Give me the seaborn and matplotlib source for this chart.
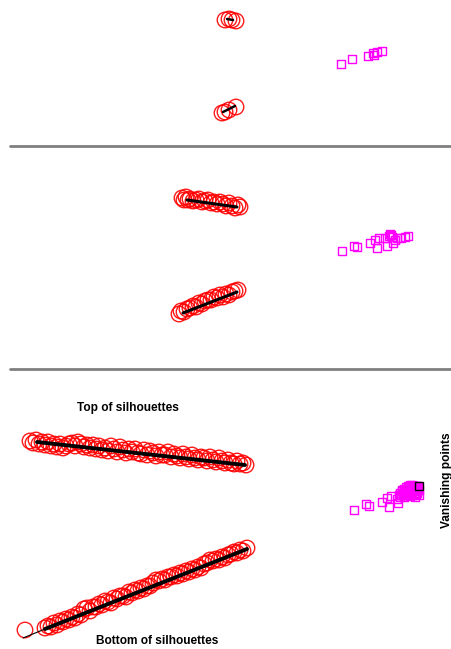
import matplotlib
matplotlib.use("Agg")
import matplotlib.pyplot as plt
import seaborn as sns

sns.set_theme(style="white")
plt.rcParams['font.family'] = ['Liberation Sans', 'DejaVu Sans']

# ---- Panel 1: few frames -------------------------------------------------
p1_top_x = [225, 229, 232, 236]
p1_top_y = [20, 19, 20, 21]
p1_top_fit_x = [227, 233]
p1_top_fit_y = [19, 20]
p1_bot_x = [222, 225, 229, 236]
p1_bot_y = [113, 112, 110, 107]
p1_bot_fit_x = [223, 235]
p1_bot_fit_y = [112, 106]
p1_vp_x = [341, 352, 368, 373, 374, 377, 382]
p1_vp_y = [64, 59, 56, 53, 55, 52, 51]

# ---- Panel 2: more frames ------------------------------------------------
p2_top_x = [182, 184, 186, 188, 190, 193, 196, 199, 202, 205, 208, 211, 214,
            217, 220, 223, 226, 229, 232, 235, 238, 240]
p2_top_y = [52, 54, 51, 54, 53, 55, 54, 53, 56, 55, 54, 57, 56, 58, 56, 58,
            60, 57, 60, 62, 59, 61]
p2_top_fit_x = [187, 237]
p2_top_fit_y = [54, 61]
p2_bot_x = [179, 181, 184, 187, 190, 193, 196, 199, 202, 205, 208, 211, 214,
            217, 220, 223, 226, 229, 232, 235, 238]
p2_bot_y = [168, 165, 166, 163, 162, 160, 161, 157, 158, 155, 154, 154, 151,
            152, 149, 151, 148, 149, 146, 145, 144]
p2_bot_fit_x = [183, 237]
p2_bot_fit_y = [167, 146]
p2_vp_x = [342, 354, 357, 370, 375, 377, 379, 385, 387, 390, 392, 393, 395,
           397, 401, 405, 408, 391, 389]
p2_vp_y = [105, 100, 101, 97, 94, 102, 92, 92, 100, 88, 91, 97, 94, 92, 92,
           91, 90, 89, 90]

# ---- Panel 3: full sequence ----------------------------------------------
p3_top_x = [30, 33, 36, 39, 42, 45, 48, 51, 54, 57, 60, 63, 66, 69, 72, 75,
            78, 81, 84, 87, 90, 93, 96, 99, 102, 105, 108, 111, 114, 117, 120,
            123, 126, 129, 132, 135, 138, 141, 144, 147, 150, 153, 156, 159,
            162, 165, 168, 171, 174, 177, 180, 183, 186, 189, 192, 195, 198,
            201, 204, 207, 210, 213, 216, 219, 222, 225, 228, 231, 234, 237,
            240, 243, 246]
p3_top_y = [72, 74, 71, 75, 73, 76, 73, 77, 75, 78,
            75, 79, 77, 75, 74, 77, 73, 75, 78, 76,
            79, 76, 80, 77, 81, 79, 82, 77, 80, 83,
            78, 81, 84, 80, 83, 80, 84, 85, 81, 86,
            82, 84, 87, 83, 86, 86, 83, 88, 85, 87,
            89, 85, 88, 90, 86, 89, 91, 88, 89, 92,
            88, 91, 93, 89, 92, 94, 91, 94, 95, 92,
            95, 94, 96]
p3_top_fit_x = [37, 245]
p3_top_fit_y = [73, 96]
p3_bot_x = [25, 45, 48, 51, 54, 57, 60, 63, 66, 69, 72, 75, 78, 81, 84, 87,
            90, 93, 96, 99, 102, 105, 108, 111, 114, 117, 120, 123, 126, 129,
            132, 135, 138, 141, 144, 147, 150, 153, 156, 159, 162, 165, 168,
            171, 174, 177, 180, 183, 186, 189, 192, 195, 198, 201, 204, 207,
            210, 213, 216, 219, 222, 225, 228, 231, 234, 237, 240, 243, 247]
p3_bot_y = [261, 259, 257, 258, 254, 256, 252, 253, 250, 251, 248, 249, 245,
            246, 240, 239, 242, 238, 238, 235, 236, 232, 233, 234, 229, 230,
            227, 227, 228, 223, 224, 221, 222, 219, 220, 217, 217, 214, 211,
            212, 210, 211, 208, 208, 206, 207, 204, 205, 202, 203, 200, 201,
            198, 199, 195, 194, 191, 192, 190, 191, 188, 189, 186, 185, 183,
            184, 181, 182, 179]
p3_bot_fit_x = [23, 45, 247]
p3_bot_fit_y = [269, 260, 180]
p3_vp_x = [354, 366, 369, 382, 387, 389, 391, 398, 400, 403, 405, 406, 408,
           409, 410, 411, 412, 413, 414, 415, 416, 417, 418, 407, 404, 410,
           413, 416, 419, 415, 411, 408, 405, 402, 409, 414, 417, 412,
           400, 402, 404, 406, 408, 410, 412, 414, 416, 418, 401, 403, 405,
           407, 409, 411, 413, 415, 417, 419, 397, 399, 404, 410, 416]
p3_vp_y = [141, 135, 137, 133, 129, 138, 127, 134, 128, 125, 121, 126, 119,
           123, 127, 120, 118, 122, 125, 119, 121, 124, 120, 122, 128, 118,
           117, 117, 126, 128, 124, 125, 123, 121, 120, 121, 122, 126,
           124, 122, 120, 118, 117, 116, 116, 117, 118, 119, 126, 125, 124,
           122, 121, 119, 118, 120, 117, 121, 130, 126, 126, 125, 125]
p3_vp_best_x = [419]
p3_vp_best_y = [117]

W = 452
H = 649
panel_edges = [0, 146, 369, 649]

fig = plt.figure(figsize=(W / 100, H / 100), dpi=100)
fig.patch.set_facecolor("white")

axes = []
for top, bot in zip(panel_edges[:-1], panel_edges[1:]):
    ax = fig.add_axes([0, 1 - bot / H, 1, (bot - top) / H])
    ax.set_xlim(0, W)
    ax.set_ylim(bot - top, 0)
    ax.axis("off")
    axes.append(ax)

CIRCLE_S = 125
SQUARE_S = 26


def silhouettes(ax, x, y):
    sns.scatterplot(x=x, y=y, ax=ax, marker="o", s=CIRCLE_S,
                    facecolor="none", edgecolor="#ff0000", linewidth=1.0,
                    alpha=0.9, legend=False, zorder=2)


def fit_line(ax, x, y, lw=2.6):
    sns.lineplot(x=x, y=y, ax=ax, color="black", linewidth=lw,
                 sort=False, estimator=None, zorder=3)


def vanishing(ax, x, y):
    sns.scatterplot(x=x, y=y, ax=ax, marker="s", s=SQUARE_S,
                    facecolor="none", edgecolor="#ff00ff", linewidth=1.0,
                    legend=False, zorder=2)


# Panel 1
ax = axes[0]
silhouettes(ax, p1_top_x, p1_top_y)
fit_line(ax, p1_top_fit_x, p1_top_fit_y, lw=1.8)
silhouettes(ax, p1_bot_x, p1_bot_y)
fit_line(ax, p1_bot_fit_x, p1_bot_fit_y, lw=1.8)
vanishing(ax, p1_vp_x, p1_vp_y)

# Panel 2
ax = axes[1]
ax.axhline(0, xmin=10 / W, xmax=1, color="#7f7f7f", linewidth=2, clip_on=False)
silhouettes(ax, p2_top_x, p2_top_y)
fit_line(ax, p2_top_fit_x, p2_top_fit_y, lw=2.2)
silhouettes(ax, p2_bot_x, p2_bot_y)
fit_line(ax, p2_bot_fit_x, p2_bot_fit_y, lw=2.2)
vanishing(ax, p2_vp_x, p2_vp_y)

# Panel 3
ax = axes[2]
ax.axhline(0, xmin=10 / W, xmax=1, color="#7f7f7f", linewidth=2, clip_on=False)
silhouettes(ax, p3_top_x, p3_top_y)
fit_line(ax, p3_top_fit_x, p3_top_fit_y, lw=2.8)
silhouettes(ax, p3_bot_x, p3_bot_y)
fit_line(ax, p3_bot_fit_x, p3_bot_fit_y, lw=0.8)
fit_line(ax, p3_bot_fit_x[1:], p3_bot_fit_y[1:], lw=2.8)
vanishing(ax, p3_vp_x, p3_vp_y)
sns.scatterplot(x=p3_vp_best_x, y=p3_vp_best_y, ax=ax, marker="s", s=SQUARE_S,
                color="#ff00ff", edgecolor="black", linewidth=1.0,
                legend=False, zorder=4)

ax.text(128, 39, "Top of silhouettes", ha="center", va="center",
        fontsize=8.6, fontweight="bold", color="black")
ax.text(157, 272, "Bottom of silhouettes", ha="center", va="center",
        fontsize=8.6, fontweight="bold", color="black")
ax.text(447, 111, "Vanishing points", ha="center", va="center",
        rotation=90, fontsize=8.6, fontweight="bold", color="black")

fig.savefig("out.png", dpi=100, facecolor="white")
